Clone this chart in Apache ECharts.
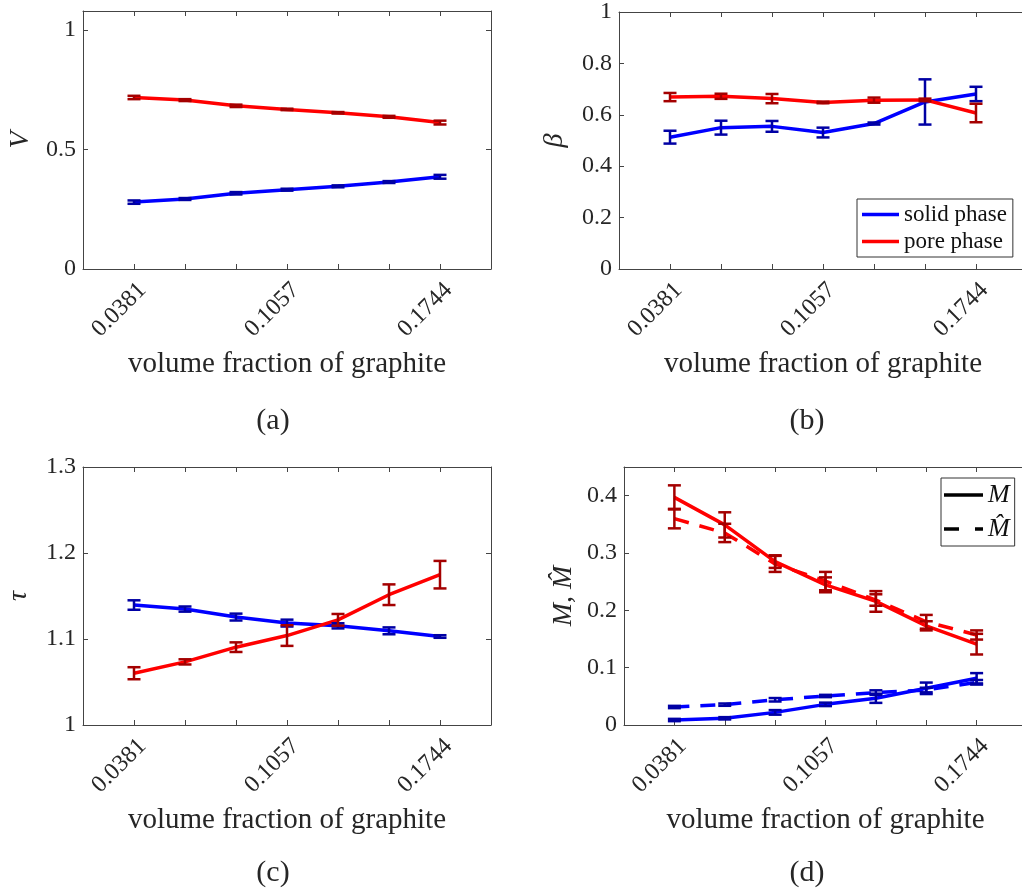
<!DOCTYPE html>
<html>
<head>
<meta charset="utf-8">
<style>html,body{margin:0;padding:0;background:#fff;}#c{width:1022px;height:893px;}</style>
<script src="https://cdn.jsdelivr.net/npm/echarts@6/dist/echarts.min.js"></script>
</head>
<body>
<div id="c"></div>
<script>
// ---- data ----
const xTickLabels = ['0.0381', '', '', '0.1057', '', '', '0.1744'];

const vSolid    = [0.280, 0.293, 0.317, 0.332, 0.346, 0.364, 0.386];
const vSolidErr = [0.007, 0.004, 0.005, 0.004, 0.004, 0.004, 0.008];
const vPore     = [0.718, 0.707, 0.683, 0.668, 0.654, 0.637, 0.613];
const vPoreErr  = [0.007, 0.004, 0.005, 0.003, 0.003, 0.004, 0.008];

const betaSolid    = [0.513, 0.550, 0.555, 0.531, 0.566, 0.650, 0.681];
const betaSolidErr = [0.025, 0.027, 0.021, 0.019, 0.004, 0.088, 0.028];
const betaPore     = [0.669, 0.672, 0.663, 0.648, 0.657, 0.658, 0.607];
const betaPoreErr  = [0.016, 0.010, 0.018, 0.003, 0.010, 0.005, 0.036];

const tauSolid    = [1.1395, 1.1348, 1.1255, 1.1185, 1.1153, 1.1095, 1.1029];
const tauSolidErr = [0.0055, 0.003, 0.004, 0.004, 0.003, 0.004, 0.0015];
const tauPore     = [1.0602, 1.0734, 1.0905, 1.1040, 1.1223, 1.1515, 1.1748];
const tauPoreErr  = [0.007, 0.003, 0.0056, 0.012, 0.0068, 0.012, 0.016];

const mSolid       = [0.0087, 0.0117, 0.022, 0.036, 0.0466, 0.064, 0.0815];
const mSolidErr    = [0.002, 0.002, 0.004, 0.003, 0.008, 0.010, 0.009];
const mHatSolid    = [0.0314, 0.0355, 0.044, 0.0506, 0.0565, 0.061, 0.0745];
const mHatSolidErr = [0.002, 0.002, 0.003, 0.002, 0.004, 0.004, 0.004];
const mPore        = [0.397, 0.349, 0.285, 0.2445, 0.2155, 0.173, 0.141];
const mPoreErr     = [0.021, 0.022, 0.011, 0.013, 0.018, 0.008, 0.018];
const mHatPore     = [0.360, 0.335, 0.281, 0.251, 0.218, 0.180, 0.157];
const mHatPoreErr  = [0.017, 0.016, 0.014, 0.016, 0.010, 0.012, 0.008];

// ---- styling ----
const FONT = 'Liberation Serif';
const AX = '#444444';
const TXT = '#262626';
const RED = '#ff0000', BLUE = '#0000ff';
const DRED = '#a40000', DBLUE = '#0000a4';
const LW = 3.5;
const DASH = [15, 11];
const ICON_SOLID = 'path://M0,0h39v4h-39z';
const ICON_DASH = 'path://M0,0h15v4h-15zM31,0h8v4h-8z';

const grids = [
  {left: 83,  top: 11,  width: 408, height: 258},
  {left: 619, top: 12,  width: 408, height: 257},
  {left: 83,  top: 467, width: 408, height: 258},
  {left: 624, top: 467, width: 403, height: 258}
].map(g => Object.assign({outerBoundsMode: 'none', containLabel: false}, g));

const xAxes = [], yAxes = [];
function yFmt(int) {
  return function (v) {
    const k = v / int;
    if (Math.abs(k - Math.round(k)) > 1e-6) return '';
    return String(Number(v.toFixed(3)));
  };
}
function addAxes(gi, yMin, yMax, yInt, yName, yNameGap) {
  const line = {show: true, onZero: false, lineStyle: {color: AX, width: 1}};
  const tick = {show: true, inside: true, length: 5, lineStyle: {color: AX, width: 1}};
  xAxes.push({
    type: 'value', gridIndex: gi, position: 'bottom', min: 0, max: 8, interval: 1,
    axisLine: line, axisTick: tick, splitLine: {show: false},
    axisLabel: {
      rotate: 45, margin: 9, verticalAlign: 'top', fontFamily: FONT, fontSize: 24, color: TXT,
      formatter: v => (v >= 1 && v <= 7 ? xTickLabels[Math.round(v) - 1] : '')
    },
    name: 'volume fraction of graphite', nameLocation: 'middle', nameGap: 81,
    nameTextStyle: {fontFamily: FONT, fontSize: 29, color: TXT}
  });
  xAxes.push({
    type: 'value', gridIndex: gi, position: 'top', min: 0, max: 8, interval: 1,
    axisLine: line, axisTick: tick, splitLine: {show: false}, axisLabel: {show: false}
  });
  yAxes.push({
    type: 'value', gridIndex: gi, position: 'left', min: yMin, max: yMax, interval: yInt,
    axisLine: line, axisTick: tick, splitLine: {show: false},
    axisLabel: {margin: 7, fontFamily: FONT, fontSize: 24, color: TXT, formatter: yFmt(yInt)},
    name: yName, nameLocation: 'middle', nameGap: yNameGap, nameRotate: 90,
    nameTextStyle: {fontFamily: FONT, fontSize: 28, fontStyle: 'italic', color: TXT}
  });
  yAxes.push({
    type: 'value', gridIndex: gi, position: 'right', min: yMin, max: yMax, interval: yInt,
    axisLine: line, axisTick: tick, splitLine: {show: false}, axisLabel: {show: false}
  });
}
addAxes(0, 0, 1.08, 0.5, 'V', 48);
addAxes(1, 0, 1, 0.2, '\u03b2', 50);
addAxes(2, 1, 1.3, 0.1, '\u03c4', 50);
addAxes(3, 0, 0.45, 0.1, 'M, M\u0302', 46);

const series = [];
function lineS(name, gi, values, color, dashed) {
  series.push({
    type: 'line', name: name, xAxisIndex: 2 * gi, yAxisIndex: 2 * gi,
    data: values.map((v, i) => [i + 1, v]),
    symbol: 'none', color: color, silent: true, z: 2,
    lineStyle: {color: color, width: LW, type: dashed ? DASH : 'solid'}
  });
}
function errS(gi, values, errs, color) {
  series.push({
    type: 'custom', name: 'err', xAxisIndex: 2 * gi, yAxisIndex: 2 * gi, z: 3, silent: true,
    data: values.map((v, i) => [i + 1, v - errs[i], v + errs[i]]),
    encode: {x: 0, y: [1, 2]},
    renderItem: function (params, api) {
      const x = api.value(0);
      const p1 = api.coord([x, api.value(2)]);
      const p2 = api.coord([x, api.value(1)]);
      const w = 6.5;
      const st = {stroke: color, lineWidth: 2.5, fill: null};
      return {
        type: 'group', children: [
          {type: 'line', shape: {x1: p1[0], y1: p1[1], x2: p2[0], y2: p2[1]}, style: st},
          {type: 'line', shape: {x1: p1[0] - w, y1: p1[1], x2: p1[0] + w, y2: p1[1]}, style: st},
          {type: 'line', shape: {x1: p2[0] - w, y1: p2[1], x2: p2[0] + w, y2: p2[1]}, style: st}
        ]
      };
    }
  });
}
// (a)
lineS('V solid', 0, vSolid, BLUE); lineS('V pore', 0, vPore, RED);
errS(0, vSolid, vSolidErr, DBLUE); errS(0, vPore, vPoreErr, DRED);
// (b)
lineS('solid phase', 1, betaSolid, BLUE); lineS('pore phase', 1, betaPore, RED);
errS(1, betaSolid, betaSolidErr, DBLUE); errS(1, betaPore, betaPoreErr, DRED);
// (c)
lineS('tau solid', 2, tauSolid, BLUE); lineS('tau pore', 2, tauPore, RED);
errS(2, tauSolid, tauSolidErr, DBLUE); errS(2, tauPore, tauPoreErr, DRED);
// (d)
lineS('Mhat solid', 3, mHatSolid, BLUE, true); lineS('Mhat pore', 3, mHatPore, RED, true);
lineS('M solid', 3, mSolid, BLUE); lineS('M pore', 3, mPore, RED);
errS(3, mHatSolid, mHatSolidErr, DBLUE); errS(3, mHatPore, mHatPoreErr, DRED);
errS(3, mSolid, mSolidErr, DBLUE); errS(3, mPore, mPoreErr, DRED);
// legend-only series for (d)
series.push({type: 'line', name: 'M', xAxisIndex: 6, yAxisIndex: 6, data: [], symbol: 'none', color: '#000',
  lineStyle: {color: '#000', width: LW}});
series.push({type: 'line', name: 'M\u0302', xAxisIndex: 6, yAxisIndex: 6, data: [], symbol: 'none', color: '#000',
  lineStyle: {color: '#000', width: LW, type: DASH}});

const panelLabels = [['(a)', 273, 421], ['(b)', 807, 421], ['(c)', 273, 873], ['(d)', 807, 873]];

const option = {
  animation: false,
  backgroundColor: '#ffffff',
  grid: grids,
  xAxis: xAxes,
  yAxis: yAxes,
  legend: [
    {
      data: [{name: 'solid phase', icon: ICON_SOLID}, {name: 'pore phase', icon: ICON_SOLID}],
      orient: 'vertical', left: 857, top: 199,
      itemWidth: 37, itemHeight: 3.5, itemGap: 4, padding: [4, 6, 4, 5], symbolKeepAspect: false,
      borderColor: '#333', borderWidth: 1, backgroundColor: '#fff', selectedMode: false,
      textStyle: {fontFamily: FONT, fontSize: 23, color: '#111'}
    },
    {
      data: [{name: 'M', icon: ICON_SOLID}, {name: 'M\u0302', icon: ICON_DASH}],
      orient: 'vertical', left: 941, top: 478,
      itemWidth: 39, itemHeight: 3.5, itemGap: 8, padding: [4, 5, 4, 3], symbolKeepAspect: false,
      borderColor: '#333', borderWidth: 1, backgroundColor: '#fff', selectedMode: false,
      textStyle: {fontFamily: FONT, fontSize: 26, fontStyle: 'italic', color: '#111'}
    }
  ],
  graphic: panelLabels.map(p => ({
    type: 'text', x: p[1], y: p[2],
    style: {text: p[0], font: '30px "' + FONT + '"', fill: TXT, align: 'center', verticalAlign: 'middle'}
  })),
  series: series
};

const chart = echarts.init(document.getElementById('c'), null, {renderer: 'canvas'});
chart.setOption(option);
</script>
</body>
</html>
